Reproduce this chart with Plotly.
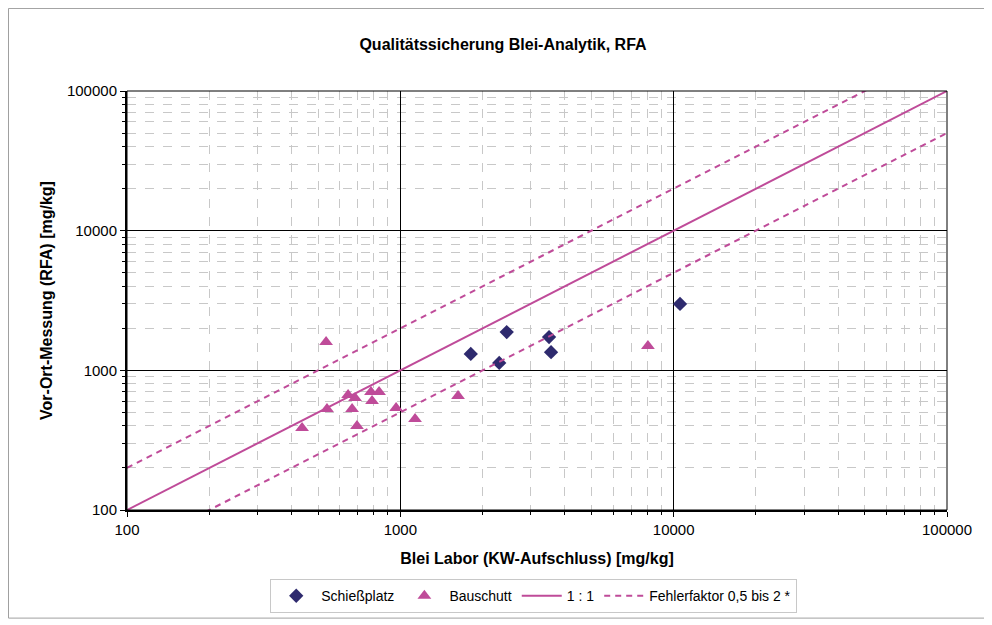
import plotly.graph_objects as go

# Data
schiess_x = [1810, 2300, 2450, 3500, 3560, 10550]
schiess_y = [1310, 1130, 1880, 1730, 1350, 2990]
bau_x = [437, 535, 539, 644, 666, 683, 694, 781, 788, 836, 965, 1132, 1626, 8050]
bau_y = [387, 1595, 529, 666, 529, 634, 399, 700, 603, 700, 537, 448, 655, 1494]
line_x = [100, 100000]
ratio_1 = [1, 1]
upper_factor = 2.0
lower_factor = 0.5

major_ticks = [100, 1000, 10000, 100000]
major_text = ["100", "1000", "10000", "100000"]
minor_ticks = [m * 10 ** e for e in range(2, 5) for m in range(2, 10)]

mag = "#BF4B99"
navy = "#2E2A6E"
font = "Liberation Sans, Arial, sans-serif"

fig = go.Figure()
fig.add_trace(go.Scatter(x=schiess_x, y=schiess_y, mode="markers", name="Schießplatz",
                         marker=dict(symbol="diamond", size=11, color=navy)))
fig.add_trace(go.Scatter(x=bau_x, y=bau_y, mode="markers", name="Bauschutt",
                         marker=dict(symbol="triangle-up", size=12, color=mag)))
fig.add_trace(go.Scatter(x=line_x, y=[v * r for v, r in zip(line_x, ratio_1)], mode="lines", name="1 : 1",
                         line=dict(color=mag, width=2)))
fig.add_trace(go.Scatter(x=line_x, y=[v * upper_factor for v in line_x], mode="lines",
                         name="Fehlerfaktor 0,5 bis 2 *", line=dict(color=mag, width=2, dash="6px,5px")))
fig.add_trace(go.Scatter(x=line_x, y=[v * lower_factor for v in line_x], mode="lines",
                         showlegend=False, line=dict(color=mag, width=2, dash="6px,5px")))

axis_common = dict(
    type="log", range=[2, 5], tickvals=major_ticks, ticktext=major_text,
    showgrid=True, gridcolor="black", gridwidth=1,
    showline=True, linecolor="black", linewidth=2,
    ticks="outside", ticklen=5, tickcolor="black",
    tickfont=dict(family=font, size=15, color="black"),
    minor=dict(tickvals=minor_ticks, ticks="outside", ticklen=3, tickcolor="black",
               showgrid=True, gridcolor="#c8c8c8", griddash="dash", gridwidth=1),
    zeroline=False,
)

fig.update_xaxes(**axis_common,
                 title=dict(text="<b>Blei Labor (KW-Aufschluss) [mg/kg]</b>",
                            font=dict(family=font, size=16, color="black"), standoff=16))
fig.update_yaxes(**axis_common,
                 title=dict(text="<b>Vor-Ort-Messung (RFA) [mg/kg]</b>",
                            font=dict(family=font, size=16, color="black"), standoff=10))

fig.update_layout(
    width=992, height=625,
    margin=dict(l=119, r=53, t=83, b=123),
    paper_bgcolor="white", plot_bgcolor="white",
    title=dict(text="<b>Qualitätssicherung Blei-Analytik, RFA</b>", x=(503 - 8) / 992, xanchor="center",
               y=1 - 36 / 625, yanchor="middle", yref="container",
               font=dict(family=font, size=16, color="black")),
    font=dict(family=font, size=14, color="black"),
    legend=dict(orientation="h", x=0.496, xanchor="center", y=-0.165, yanchor="top",
                bordercolor="#c8c8c8", borderwidth=1, font=dict(family=font, size=14),
                itemwidth=40),
    shapes=[
        dict(type="rect", xref="paper", yref="paper", x0=0, x1=1, y0=0, y1=1,
             line=dict(color="black", width=1), layer="above"),
        dict(type="rect", xref="paper", yref="paper", x0=-0.1445, x1=1.046, y0=-0.258, y1=1.197,
             line=dict(color="#a0a0a0", width=1), layer="below"),
    ],
)

fig.write_html("out.html")
